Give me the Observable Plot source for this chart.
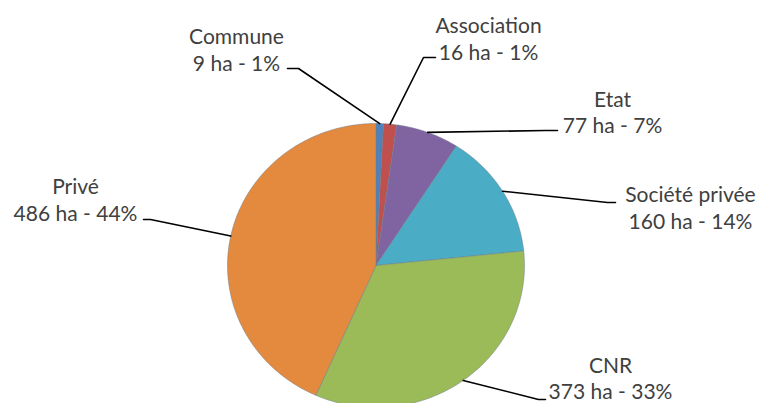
<!DOCTYPE html>
<html>
<head>
<meta charset="utf-8">
<script src="https://cdn.jsdelivr.net/npm/d3@7"></script>
<script src="https://cdn.jsdelivr.net/npm/@observablehq/plot@0.6"></script>
<style>
  html, body { margin: 0; padding: 0; background: #fff; }
  #chart { width: 765px; height: 403px; overflow: hidden; }
</style>
</head>
<body>
<div id="chart"></div>
<script>
// ---- data ----
const categories = ["Commune", "Association", "Etat", "Société privée", "CNR", "Privé"];
const hectares   = [9, 16, 77, 160, 373, 486];
const percentLabels = ["1%", "1%", "7%", "14%", "33%", "44%"];
const colors = ["#4F81BD", "#C0504D", "#8064A2", "#4BACC6", "#9BBB59", "#E38A3F"];

// ---- layout (pixel space of the picture) ----
const W = 765, H = 403;
const pie = {cx: 375.5, cy: 265, rx: 148.5, ry: 142};
// label block centre, elbow of leader line and leader end next to the label
const labelLayout = {
  "Commune":        {tx: 236, ty: 48.5, elbow: [298, 68],  end: [287, 68]},
  "Association":    {tx: 488, ty: 37.5, elbow: [423, 57],  end: [435, 57]},
  "Etat":           {tx: 612, ty: 111,  elbow: [545, 130], end: [557, 130]},
  "Société privée": {tx: 690, ty: 206.5,elbow: [607, 202], end: [615, 202]},
  "CNR":            {tx: 610, ty: 377,  elbow: [538, 399], end: [545, 399]},
  "Privé":          {tx: 75,  ty: 198.5,elbow: [150, 219], end: [143, 219]}
};

const data = categories.map((c, i) => ({name: c, value: hectares[i], pct: percentLabels[i]}));
const arcs = d3.pie().sort(null).value(d => d.value)(data);

function pt(angle, k = 1) {
  return [pie.cx + k * pie.rx * Math.sin(angle), pie.cy - k * pie.ry * Math.cos(angle)];
}

// slice polygons
const slicePts = [];
arcs.forEach(a => {
  const name = a.data.name;
  slicePts.push({name, x: pie.cx, y: pie.cy});
  const n = Math.max(2, Math.ceil((a.endAngle - a.startAngle) / 0.01));
  for (let i = 0; i <= n; i++) {
    const t = a.startAngle + (a.endAngle - a.startAngle) * i / n;
    const [x, y] = pt(t);
    slicePts.push({name, x, y});
  }
  slicePts.push({name, x: pie.cx, y: pie.cy});
});

// leader lines
const leaderPts = [];
const labels = [];
arcs.forEach(a => {
  const name = a.data.name;
  const L = labelLayout[name];
  const mid = (a.startAngle + a.endAngle) / 2;
  const [x0, y0] = pt(mid);
  leaderPts.push({name, x: x0, y: y0});
  leaderPts.push({name, x: L.elbow[0], y: L.elbow[1]});
  leaderPts.push({name, x: L.end[0], y: L.end[1]});
  labels.push({name, x: L.tx, y: L.ty, text: `${name}\n${a.data.value} ha - ${a.data.pct}`});
});

const chart = Plot.plot({
  width: W,
  height: H,
  margin: 0,
  x: {domain: [0, W], range: [0, W], axis: null},
  y: {domain: [0, H], range: [0, H], axis: null},
  color: {domain: categories, range: colors},
  style: {fontFamily: "Lato, sans-serif", background: "#fff"},
  marks: [
    Plot.line(slicePts, {x: "x", y: "y", z: "name", fill: "name", stroke: "#6b7b8a", strokeWidth: 0.8, strokeOpacity: 0.6, curve: "linear"}),
    Plot.line(leaderPts, {x: "x", y: "y", z: "name", stroke: "#000", strokeWidth: 1.6, curve: "linear"}),
    Plot.text(labels, {x: "x", y: "y", text: "text", fontSize: 21, lineHeight: 1.27, fill: "#404040", textAnchor: "middle", lineAnchor: "middle"})
  ]
});
document.getElementById("chart").appendChild(chart);
</script>
</body>
</html>
